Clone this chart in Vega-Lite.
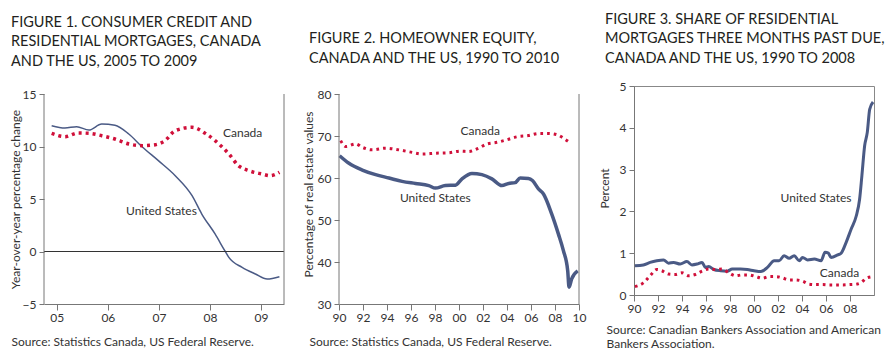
{
  "$schema": "https://vega.github.io/schema/vega-lite/v6.json",
  "padding": {"left": 8, "top": 11, "right": 0, "bottom": 0},
  "spacing": 55,
  "bounds": "flush",
  "config": {
    "view": {"stroke": null},
    "font": "Lato",
    "axis": {"labelFont": "Lato", "labelFontSize": 12, "labelColor": "#333333", "domainColor": "#777777", "tickColor": "#777777", "grid": false, "titleFont": "Lato", "titleFontSize": 12, "titleFontWeight": "normal", "titleColor": "#333333", "labelFlush": false, "labelOverlap": false},
    "axisX": {"tickSize": 6, "labelPadding": 2},
    "axisY": {"tickSize": 5, "labelPadding": 3},
    "title": {"font": "Lato", "fontSize": 14.5, "fontWeight": "normal", "color": "#231f20", "anchor": "start", "frame": "bounds", "lineHeight": 19.5},
    "text": {"font": "Lato", "fontSize": 12, "color": "#333333"}
  },
  "datasets": {
    "f1us": [
      {"t": 2004.90, "v": 11.98}, {"t": 2005.16, "v": 11.76}, {"t": 2005.39, "v": 11.89}, {"t": 2005.63, "v": 11.57},
      {"t": 2005.88, "v": 12.14}, {"t": 2006.14, "v": 12.02}, {"t": 2006.41, "v": 11.19}, {"t": 2006.67, "v": 9.98},
      {"t": 2006.99, "v": 8.65}, {"t": 2007.32, "v": 7.22}, {"t": 2007.65, "v": 5.32}, {"t": 2007.84, "v": 3.57},
      {"t": 2008.10, "v": 1.67}, {"t": 2008.29, "v": 0.08}, {"t": 2008.37, "v": -0.56}, {"t": 2008.63, "v": -1.51},
      {"t": 2008.89, "v": -2.14}, {"t": 2009.12, "v": -2.62}, {"t": 2009.36, "v": -2.40}
    ],
    "f1ca": [
      {"t": 2004.90, "v": 11.25}, {"t": 2005.16, "v": 10.94}, {"t": 2005.42, "v": 11.29}, {"t": 2005.65, "v": 11.25},
      {"t": 2005.88, "v": 11.03}, {"t": 2006.14, "v": 10.71}, {"t": 2006.41, "v": 10.24}, {"t": 2006.67, "v": 10.08},
      {"t": 2006.93, "v": 10.17}, {"t": 2007.12, "v": 10.56}, {"t": 2007.32, "v": 11.51}, {"t": 2007.65, "v": 11.83},
      {"t": 2007.91, "v": 11.25}, {"t": 2008.10, "v": 10.56}, {"t": 2008.37, "v": 9.29}, {"t": 2008.56, "v": 8.17},
      {"t": 2008.76, "v": 7.70}, {"t": 2009.02, "v": 7.38}, {"t": 2009.18, "v": 7.22}, {"t": 2009.36, "v": 7.54}
    ],
    "f1lab": [
      {"t": 2008.64, "v": 11.25, "label": "Canada"},
      {"t": 2007.05, "v": 3.89, "label": "United States"}
    ],
    "f2us": [
      {"t": 1990.05, "v": 65.3}, {"t": 1990.83, "v": 63.5}, {"t": 1991.94, "v": 61.9}, {"t": 1993.05, "v": 60.8},
      {"t": 1994.16, "v": 60.0}, {"t": 1995.26, "v": 59.2}, {"t": 1996.37, "v": 58.7}, {"t": 1997.48, "v": 58.2},
      {"t": 1998.03, "v": 57.6}, {"t": 1998.86, "v": 58.2}, {"t": 1999.70, "v": 58.3}, {"t": 2000.25, "v": 59.8},
      {"t": 2001.08, "v": 61.1}, {"t": 2001.91, "v": 60.8}, {"t": 2002.74, "v": 59.8}, {"t": 2003.57, "v": 58.2},
      {"t": 2004.13, "v": 58.7}, {"t": 2004.68, "v": 58.9}, {"t": 2005.10, "v": 60.0}, {"t": 2005.79, "v": 59.9},
      {"t": 2006.12, "v": 59.4}, {"t": 2006.62, "v": 57.4}, {"t": 2007.04, "v": 56.2}, {"t": 2007.73, "v": 51.4},
      {"t": 2008.28, "v": 46.7}, {"t": 2008.70, "v": 42.7}, {"t": 2009.06, "v": 37.9}, {"t": 2009.17, "v": 34.0},
      {"t": 2009.39, "v": 36.0}, {"t": 2009.89, "v": 37.9}
    ],
    "f2ca": [
      {"t": 1990.14, "v": 68.9}, {"t": 1990.55, "v": 67.5}, {"t": 1991.39, "v": 68.1}, {"t": 1991.94, "v": 67.3},
      {"t": 1992.77, "v": 66.7}, {"t": 1993.88, "v": 67.1}, {"t": 1994.99, "v": 66.7}, {"t": 1996.09, "v": 66.1},
      {"t": 1996.93, "v": 65.7}, {"t": 1998.03, "v": 65.9}, {"t": 1999.14, "v": 66.0}, {"t": 2000.11, "v": 66.4},
      {"t": 2000.80, "v": 66.3}, {"t": 2001.63, "v": 67.1}, {"t": 2002.33, "v": 68.1}, {"t": 2003.16, "v": 68.5},
      {"t": 2003.99, "v": 69.1}, {"t": 2004.82, "v": 69.8}, {"t": 2005.79, "v": 70.1}, {"t": 2006.62, "v": 70.6},
      {"t": 2007.45, "v": 70.6}, {"t": 2008.28, "v": 70.2}, {"t": 2008.70, "v": 69.5}, {"t": 2009.11, "v": 68.7}
    ],
    "f2lab": [
      {"t": 2001.77, "v": 71.3, "label": "Canada"},
      {"t": 1998.03, "v": 55.2, "label": "United States"}
    ],
    "f3us": [
      {"t": 1990.08, "v": 0.70}, {"t": 1990.78, "v": 0.72}, {"t": 1991.34, "v": 0.78}, {"t": 1991.90, "v": 0.82},
      {"t": 1992.46, "v": 0.84}, {"t": 1992.88, "v": 0.76}, {"t": 1993.30, "v": 0.78}, {"t": 1993.85, "v": 0.74},
      {"t": 1994.41, "v": 0.80}, {"t": 1994.83, "v": 0.72}, {"t": 1995.25, "v": 0.74}, {"t": 1995.67, "v": 0.78},
      {"t": 1995.95, "v": 0.66}, {"t": 1996.23, "v": 0.68}, {"t": 1996.65, "v": 0.61}, {"t": 1997.21, "v": 0.58},
      {"t": 1997.77, "v": 0.57}, {"t": 1998.18, "v": 0.62}, {"t": 1998.88, "v": 0.62}, {"t": 1999.44, "v": 0.61},
      {"t": 2000.00, "v": 0.58}, {"t": 2000.56, "v": 0.56}, {"t": 2001.12, "v": 0.66}, {"t": 2001.68, "v": 0.82},
      {"t": 2002.09, "v": 0.82}, {"t": 2002.51, "v": 0.94}, {"t": 2002.93, "v": 0.88}, {"t": 2003.35, "v": 0.94},
      {"t": 2003.77, "v": 0.82}, {"t": 2004.05, "v": 0.90}, {"t": 2004.47, "v": 0.84}, {"t": 2005.03, "v": 0.86},
      {"t": 2005.59, "v": 0.82}, {"t": 2005.92, "v": 1.02}, {"t": 2006.20, "v": 1.00}, {"t": 2006.42, "v": 0.90},
      {"t": 2006.98, "v": 0.96}, {"t": 2007.26, "v": 1.00}, {"t": 2007.68, "v": 1.26}, {"t": 2008.10, "v": 1.58},
      {"t": 2008.52, "v": 1.89}, {"t": 2008.80, "v": 2.29}, {"t": 2008.99, "v": 2.85}, {"t": 2009.22, "v": 3.57},
      {"t": 2009.44, "v": 3.89}, {"t": 2009.64, "v": 4.44}, {"t": 2009.92, "v": 4.62}
    ],
    "f3ca": [
      {"t": 1990.08, "v": 0.20}, {"t": 1990.78, "v": 0.29}, {"t": 1991.34, "v": 0.46}, {"t": 1991.90, "v": 0.61},
      {"t": 1992.32, "v": 0.58}, {"t": 1992.88, "v": 0.50}, {"t": 1993.44, "v": 0.49}, {"t": 1994.00, "v": 0.53},
      {"t": 1994.55, "v": 0.46}, {"t": 1995.11, "v": 0.49}, {"t": 1995.67, "v": 0.57}, {"t": 1996.23, "v": 0.62},
      {"t": 1996.79, "v": 0.61}, {"t": 1997.35, "v": 0.62}, {"t": 1997.91, "v": 0.53}, {"t": 1998.46, "v": 0.46},
      {"t": 1999.02, "v": 0.48}, {"t": 1999.58, "v": 0.48}, {"t": 2000.14, "v": 0.44}, {"t": 2000.70, "v": 0.40},
      {"t": 2001.26, "v": 0.44}, {"t": 2001.82, "v": 0.44}, {"t": 2002.37, "v": 0.41}, {"t": 2002.93, "v": 0.36},
      {"t": 2003.49, "v": 0.36}, {"t": 2004.05, "v": 0.33}, {"t": 2004.61, "v": 0.26}, {"t": 2005.17, "v": 0.25},
      {"t": 2005.73, "v": 0.25}, {"t": 2006.28, "v": 0.24}, {"t": 2006.84, "v": 0.24}, {"t": 2007.40, "v": 0.24},
      {"t": 2007.96, "v": 0.25}, {"t": 2008.52, "v": 0.26}, {"t": 2008.94, "v": 0.30}, {"t": 2009.36, "v": 0.40},
      {"t": 2009.92, "v": 0.44}
    ],
    "f3lab": [
      {"t": 2005.17, "v": 2.32, "label": "United States"},
      {"t": 2007.12, "v": 0.53, "label": "Canada"}
    ]
  },
  "hconcat": [
    {
      "width": 240, "height": 218,
      "title": {"text": ["FIGURE 1. CONSUMER CREDIT AND", "RESIDENTIAL MORTGAGES, CANADA", "AND THE US, 2005 TO 2009"], "offset": 17, "dx": 2},
      "layer": [
        {
          "data": {"name": "f1us"},
          "mark": {"type": "line", "color": "#4a5a85", "strokeWidth": 1.5, "interpolate": "monotone"},
          "encoding": {
            "x": {"field": "t", "type": "quantitative", "scale": {"domain": [2004.75, 2009.45], "nice": false, "zero": false},
              "axis": {"values": [2005, 2006, 2007, 2008, 2009], "tickCount": 30, "labelExpr": "format(datum.value % 100, '02d')", "labelOverlap": false, "title": "Source: Statistics Canada, US Federal Reserve.", "titleX": -33, "titleY": 32, "titleAlign": "left", "titleAnchor": "start", "titleBaseline": "top"}},
            "y": {"field": "v", "type": "quantitative", "scale": {"domain": [-5, 15.762], "nice": false, "zero": false},
              "axis": {"values": [-5, 0, 5, 10, 15], "format": "d", "labelOverlap": false, "domain": false, "title": "Year-over-year percentage change", "titleX": -29, "titleY": 113, "titleBaseline": "middle"}}
          }
        },
        {
          "data": {"name": "f1ca"},
          "mark": {"type": "line", "color": "#d0103a", "strokeWidth": 3.5, "strokeDash": [3, 4], "interpolate": "monotone"},
          "encoding": {
            "x": {"field": "t", "type": "quantitative"},
            "y": {"field": "v", "type": "quantitative"}
          }
        },
        {
          "data": {"values": [{}]},
          "mark": {"type": "rule", "color": "#333333", "strokeWidth": 1},
          "encoding": {"y": {"datum": 0}}
        },
        {
          "data": {"values": [{}]},
          "mark": {"type": "rule", "color": "#777777", "strokeWidth": 1},
          "encoding": {"x": {"datum": 2004.75}, "y": {"datum": -5}, "y2": {"datum": 15}}
        },
        {
          "data": {"values": [{}]},
          "mark": {"type": "rule", "color": "#777777", "strokeWidth": 1},
          "encoding": {"x": {"datum": 2009.45}, "y": {"datum": -5}, "y2": {"datum": 15}}
        },
        {
          "data": {"name": "f1lab"},
          "mark": {"type": "text", "align": "center", "baseline": "middle"},
          "encoding": {
            "x": {"field": "t", "type": "quantitative"},
            "y": {"field": "v", "type": "quantitative"},
            "text": {"field": "label"}
          }
        }
      ]
    },
    {
      "width": 240, "height": 218,
      "title": {"text": ["FIGURE 2. HOMEOWNER EQUITY,", "CANADA AND THE US, 1990 TO 2010"], "offset": 20, "dx": 7},
      "layer": [
        {
          "data": {"name": "f2us"},
          "mark": {"type": "line", "color": "#4a5a85", "strokeWidth": 3.5, "interpolate": "monotone"},
          "encoding": {
            "x": {"field": "t", "type": "quantitative", "scale": {"domain": [1990, 2010], "nice": false, "zero": false},
              "axis": {"values": [1990, 1992, 1994, 1996, 1998, 2000, 2002, 2004, 2006, 2008, 2010], "tickCount": 30, "labelExpr": "format(datum.value % 100, '02d')", "labelOverlap": false, "title": "Source: Statistics Canada, US Federal Reserve.", "titleX": -30, "titleY": 32, "titleAlign": "left", "titleAnchor": "start", "titleBaseline": "top"}},
            "y": {"field": "v", "type": "quantitative", "scale": {"domain": [30, 81.905], "nice": false, "zero": false},
              "axis": {"values": [30, 40, 50, 60, 70, 80], "format": "d", "labelOverlap": false, "domain": false, "title": "Percentage of real estate values", "titleX": -31, "titleY": 108, "titleBaseline": "middle"}}
          }
        },
        {
          "data": {"name": "f2ca"},
          "mark": {"type": "line", "color": "#d0103a", "strokeWidth": 3, "strokeDash": [2.7, 4], "interpolate": "monotone"},
          "encoding": {
            "x": {"field": "t", "type": "quantitative"},
            "y": {"field": "v", "type": "quantitative"}
          }
        },
        {
          "data": {"values": [{}]},
          "mark": {"type": "rule", "color": "#777777", "strokeWidth": 1},
          "encoding": {"x": {"datum": 1990}, "y": {"datum": 30}, "y2": {"datum": 80}}
        },
        {
          "data": {"values": [{}]},
          "mark": {"type": "rule", "color": "#777777", "strokeWidth": 1},
          "encoding": {"x": {"datum": 2010}, "y": {"datum": 30}, "y2": {"datum": 80}}
        },
        {
          "data": {"name": "f2lab"},
          "mark": {"type": "text", "align": "center", "baseline": "middle"},
          "encoding": {
            "x": {"field": "t", "type": "quantitative"},
            "y": {"field": "v", "type": "quantitative"},
            "text": {"field": "label"}
          }
        }
      ]
    },
    {
      "width": 240, "height": 209,
      "view": {"stroke": "#888888"},
      "title": {"text": ["FIGURE 3. SHARE OF RESIDENTIAL", "MORTGAGES THREE MONTHS PAST DUE,", "CANADA AND THE US, 1990 TO 2008"], "offset": 14, "dx": 7},
      "layer": [
        {
          "data": {"name": "f3us"},
          "mark": {"type": "line", "color": "#4a5a85", "strokeWidth": 3, "interpolate": "monotone"},
          "encoding": {
            "x": {"field": "t", "type": "quantitative", "scale": {"domain": [1990, 2010], "nice": false, "zero": false},
              "axis": {"values": [1990, 1992, 1994, 1996, 1998, 2000, 2002, 2004, 2006, 2008], "tickCount": 30, "labelExpr": "format(datum.value % 100, '02d')", "labelOverlap": false, "title": ["Source: Canadian Bankers Association and American", "Bankers Association."], "titleLineHeight": 14, "titleX": -28, "titleY": 29, "titleAlign": "left", "titleAnchor": "start", "titleBaseline": "top"}},
            "y": {"field": "v", "type": "quantitative", "scale": {"domain": [0, 5], "nice": false, "zero": false},
              "axis": {"values": [0, 1, 2, 3, 4, 5], "format": "d", "labelOverlap": false, "title": "Percent", "titleX": -30, "titleY": 102, "titleBaseline": "middle"}}
          }
        },
        {
          "data": {"name": "f3ca"},
          "mark": {"type": "line", "color": "#d0103a", "strokeWidth": 3, "strokeDash": [2.7, 4], "interpolate": "monotone"},
          "encoding": {
            "x": {"field": "t", "type": "quantitative"},
            "y": {"field": "v", "type": "quantitative"}
          }
        },
        {
          "data": {"name": "f3lab"},
          "mark": {"type": "text", "align": "center", "baseline": "middle"},
          "encoding": {
            "x": {"field": "t", "type": "quantitative"},
            "y": {"field": "v", "type": "quantitative"},
            "text": {"field": "label"}
          }
        }
      ]
    }
  ]
}
